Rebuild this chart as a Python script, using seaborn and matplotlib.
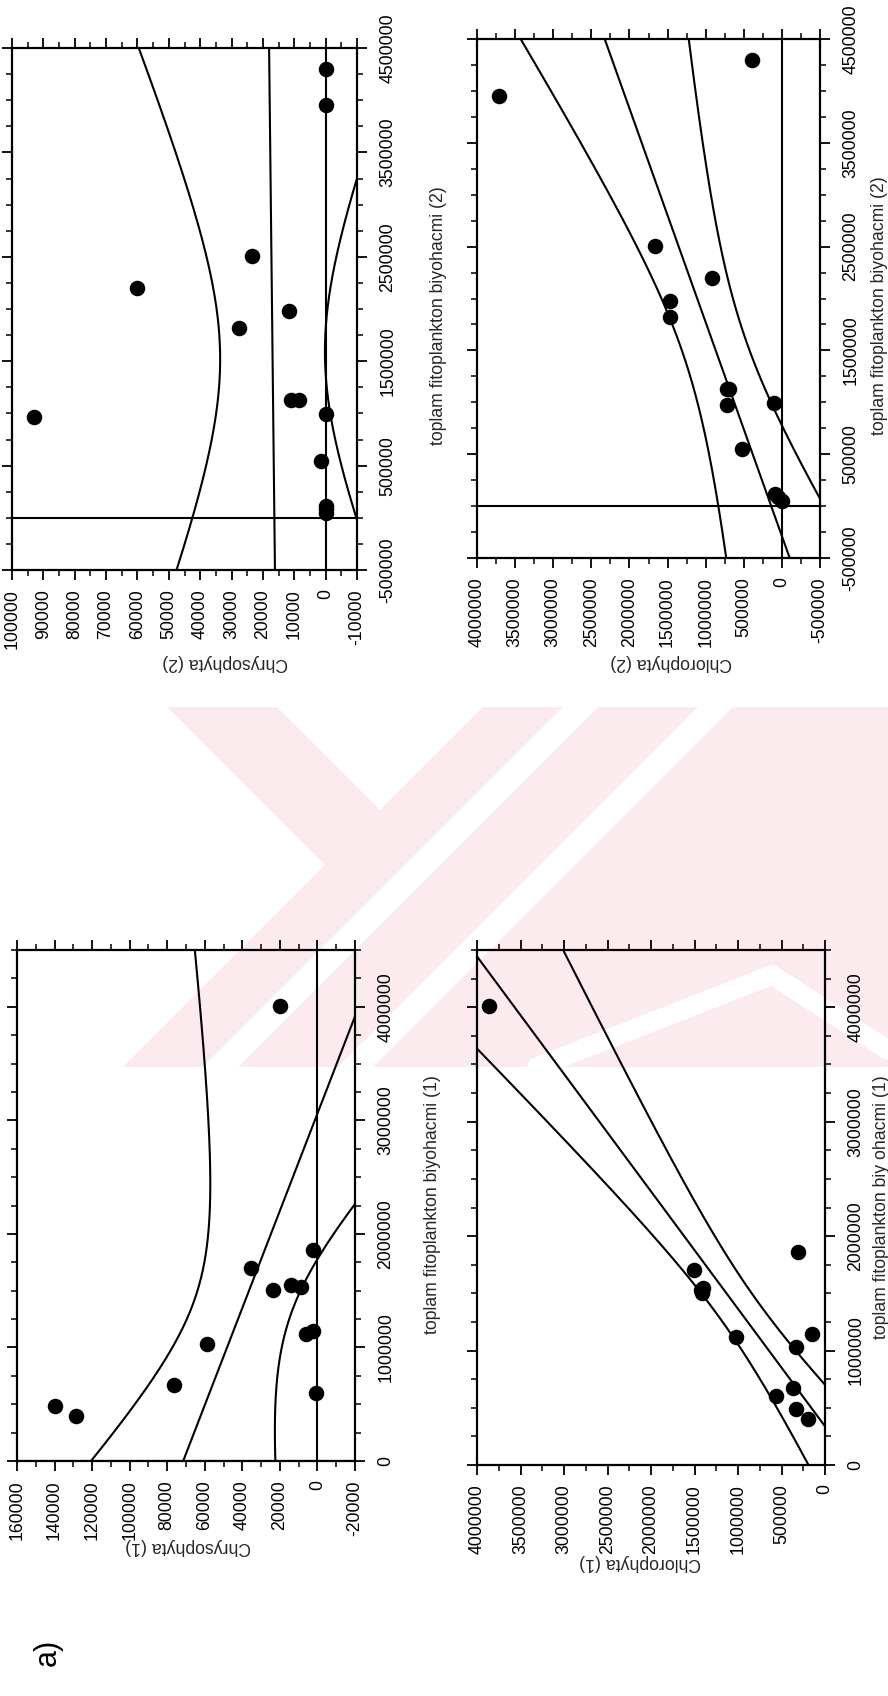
import numpy as np
import pandas as pd
import seaborn as sns
import matplotlib
matplotlib.use("Agg")
import matplotlib.pyplot as plt
from matplotlib import font_manager
from matplotlib.patches import Polygon
from matplotlib.lines import Line2D
from matplotlib.ticker import MultipleLocator, FuncFormatter

# ---- sample set (1): total phytoplankton biovolume and two groups ----
total_1 = [400000, 485000, 600000, 670000, 1027000, 1120000, 1143000,
           1503000, 1530000, 1548000, 1704000, 1861000, 4007000]
chryso_1 = [128700, 139900, 900, 76500, 58900, 6200, 2600,
            23700, 8800, 14100, 35200, 2600, 20200]
chloro_1 = [193000, 328000, 560000, 367000, 328000, 1024000, 155000,
            1410000, 1420000, 1400000, 1507000, 309000, 3864000]

# ---- sample set (2) ----
total_2 = [50000, 85000, 115000, 546000, 970000, 990000, 1130000, 1130000,
           1818000, 1980000, 2200000, 2510000, 3955000, 4300000]
chryso_2 = [0, 0, 0, 1600, 93000, 0, 11200, 8500,
            27600, 11700, 60000, 23400, 0, 0]
chloro_2 = [5000, 45000, 90000, 520000, 721000, 109000, 721000, 700000,
            1464000, 1464000, 918000, 1670000, 3715000, 393000]

xlabel_1 = "toplam fitoplankton biyohacmi (1)"
xlabel_1b = "toplam fitoplankton biy ohacmi (1)"
xlabel_2 = "toplam fitoplankton biyohacmi (2)"

# two-sided 95 % Student t quantiles by degrees of freedom
T975 = {9: 2.262, 10: 2.228, 11: 2.201, 12: 2.179, 13: 2.160, 14: 2.145}

sns.set_theme(style="white")


def pick_font(names):
    for n in names:
        try:
            font_manager.findfont(font_manager.FontProperties(family=n),
                                  fallback_to_default=False)
            return n
        except Exception:
            pass
    return "DejaVu Sans"


SANS = pick_font(["Liberation Sans", "Arial"])
plt.rcParams["font.family"] = [SANS, "DejaVu Sans"]

W, H = 888, 1696
fig = plt.figure(figsize=(W / 100, H / 100), dpi=100)
fig.patch.set_facecolor("white")

FS = 12.7
PINK = "#fcebee"


def fpt(px, py):
    return (px / W, 1 - py / H)


def fig_poly(pts, color, z):
    fig.patches.append(Polygon([fpt(*p) for p in pts], closed=True,
                               transform=fig.transFigure, facecolor=color,
                               edgecolor="none", zorder=z))


# faint background emblem between the two rows
fig_poly([(483, 707), (888, 707), (888, 1067), (123, 1067)], PINK, -3)
fig_poly([(167, 707), (277, 707), (637, 1067), (527, 1067)], PINK, -3)
for c0, c1 in ((1270, 1305), (1405, 1440)):
    fig_poly([(c0 - 707, 707), (c1 - 707, 707), (c1 - 1067, 1067), (c0 - 1067, 1067)],
             "white", -2)
chev = [fpt(537, 1067), fpt(772, 975), fpt(888, 1050)]
fig.lines.append(Line2D([p[0] for p in chev], [p[1] for p in chev],
                        transform=fig.transFigure, color="white", lw=14,
                        solid_joinstyle="miter", zorder=-2))
fig_poly([(0, 1067), (888, 1067), (888, 1100), (0, 1100)], "white", -2)


def box(left, right, top, bottom):
    return [left / W, 1 - bottom / H, (right - left) / W, (bottom - top) / H]


def fit_band(x, y, grid):
    x = np.asarray(x, float)
    y = np.asarray(y, float)
    n = len(x)
    b1, b0 = np.polyfit(x, y, 1)
    resid = y - (b0 + b1 * x)
    s = np.sqrt(np.sum(resid ** 2) / (n - 2))
    sxx = np.sum((x - x.mean()) ** 2)
    se = s * np.sqrt(1.0 / n + (grid - x.mean()) ** 2 / sxx)
    t = T975[n - 2]
    yhat = b0 + b1 * grid
    return yhat, yhat - t * se, yhat + t * se


fmt = FuncFormatter(lambda v, p: f"{int(round(v))}")


def panel(rect, total, group, glim, tlim, gmaj, gmin, tmaj, tmin, toff,
          glabel, tlabel, glabel_pos, tlabel_pos, zero_lines=True):
    ax = fig.add_axes(rect)
    ax.set_facecolor("none")
    df = pd.DataFrame({"total": total, "group": group})
    # sideways layout: group values run horizontally (reversed), totals vertically
    grid = np.linspace(tlim[0], tlim[1], 400)
    mid, lo, hi = fit_band(df["total"], df["group"], grid)
    for curve in (lo, mid, hi):
        ax.plot(curve, grid, color="black", lw=1.5, zorder=2)
    if zero_lines:
        ax.axvline(0, color="black", lw=1.5, zorder=2)
        ax.axhline(0, color="black", lw=1.5, zorder=2)
    sns.scatterplot(data=df, x="group", y="total", ax=ax, color="black",
                    s=125, linewidth=0, zorder=3, legend=False)
    ax.set_xlim(glim)
    ax.set_ylim(tlim)
    ax.xaxis.set_major_locator(MultipleLocator(gmaj))
    ax.xaxis.set_minor_locator(MultipleLocator(gmin))
    ax.yaxis.set_major_locator(MultipleLocator(tmaj, offset=toff))
    ax.yaxis.set_minor_locator(MultipleLocator(tmin))
    ax.xaxis.set_major_formatter(fmt)
    ax.yaxis.set_major_formatter(fmt)
    for sp in ax.spines.values():
        sp.set_visible(True)
        sp.set_color("black")
        sp.set_linewidth(1.6)
    ax.tick_params(which="both", direction="out", top=True, bottom=True,
                   left=True, right=True, labelleft=False, labelright=True,
                   labeltop=False, labelbottom=True, colors="black")
    ax.tick_params(which="major", length=7, width=1.3)
    ax.tick_params(which="minor", length=4, width=1.1)
    ax.tick_params(axis="x", labelrotation=90, pad=7, labelsize=FS)
    ax.tick_params(axis="y", labelrotation=90, pad=9, labelsize=FS)
    ax.grid(False)
    ax.set_xlabel(glabel, rotation=180, fontsize=FS, ha="center", va="center")
    ax.set_ylabel(tlabel, rotation=90, fontsize=FS, ha="center", va="center")
    ax.yaxis.set_label_position("right")
    ax.xaxis.set_label_coords(*glabel_pos)
    ax.yaxis.set_label_coords(*tlabel_pos)
    return ax


def frac_pos(rect_px, px, py):
    left, right, top, bottom = rect_px
    return ((px - left) / (right - left), (bottom - py) / (bottom - top))


# pixel frames of the four panels: left, right, top, bottom
TL = (12, 357, 48, 570)
TR = (477, 820, 39, 558)
BL = (17, 355, 950, 1461)
BR = (477, 825, 950, 1465)

axes = []
axes.append(panel(box(*TL), total_2, chryso_2, (100000, -10000), (-500000, 4500000),
                  10000, 5000, 1000000, 250000, 500000,
                  "Chrysophyta (2)", xlabel_2,
                  frac_pos(TL, 225, 662), frac_pos(TL, 430, 316)))
axes.append(panel(box(*TR), total_2, chloro_2, (4000000, -500000), (-500000, 4500000),
                  500000, 250000, 1000000, 250000, 500000,
                  "Chlorophyta (2)", xlabel_2,
                  frac_pos(TR, 671, 662), frac_pos(TR, 871, 306)))
axes.append(panel(box(*BL), total_1, chryso_1, (160000, -20000), (0, 4500000),
                  20000, 10000, 1000000, 250000, 0,
                  "Chrysophyta (1)", xlabel_1,
                  frac_pos(BL, 188, 1546), frac_pos(BL, 424, 1205)))
axes.append(panel(box(*BR), total_1, chloro_1, (4000000, 0), (0, 4500000),
                  500000, 250000, 1000000, 250000, 0,
                  "Chlorophyta (1)", xlabel_1b,
                  frac_pos(BR, 640, 1563), frac_pos(BR, 873, 1207),
                  zero_lines=False))

fig.text(48 / W, 1 - 1652 / H, "a)", rotation=90, ha="center", va="center",
         fontsize=22, color="black")

fig.canvas.draw()
for ax in axes:
    for lab in ax.get_yticklabels():
        lab.set_va("center")
        lab.set_ha("left")
    for lab in ax.get_xticklabels():
        lab.set_ha("center")
        lab.set_va("top")

fig.savefig("out.png", dpi=100, facecolor="white")
